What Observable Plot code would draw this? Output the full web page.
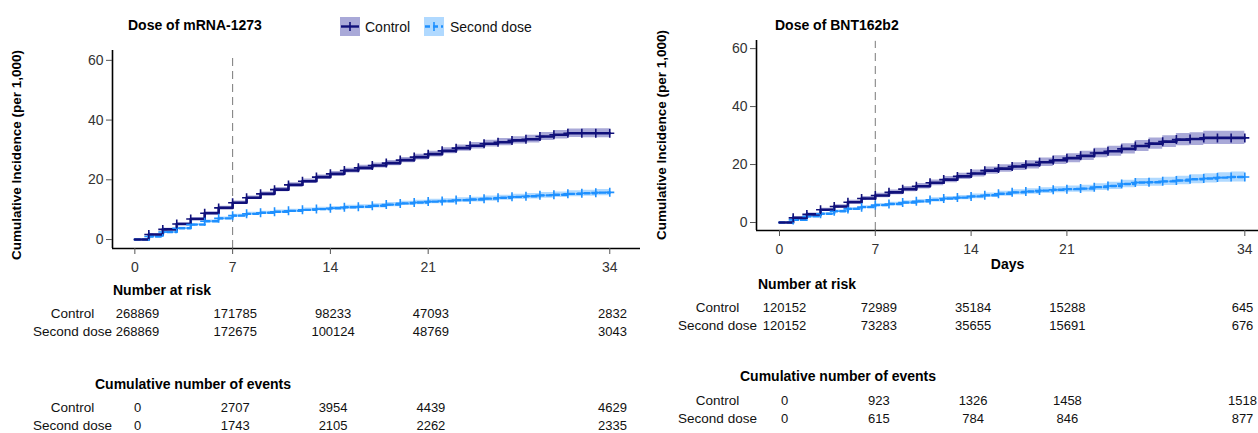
<!DOCTYPE html>
<html>
<head>
<meta charset="utf-8">
<script src="https://cdn.jsdelivr.net/npm/d3@7"></script>
<script src="https://cdn.jsdelivr.net/npm/@observablehq/plot@0.6"></script>
<style>
  body { margin: 0; background: #fff; font-family: "Liberation Sans", Arial, sans-serif; }
  #root { position: relative; width: 1258px; height: 433px; overflow: hidden; background: #fff; }
  .abs { position: absolute; white-space: nowrap; line-height: 1; }
  .bold { font-weight: bold; color: #000; font-size: 14px; }
  .ytitle { font-weight: bold; font-size: 13.5px; color: #000; transform: translate(-50%, -50%) rotate(-90deg); }
  .leg { font-size: 14px; color: #111; }
</style>
</head>
<body>
<div id="root"></div>
<script>
// ---------- data ----------
const days = [0,1,2,3,4,5,6,7,8,9,10,11,12,13,14,15,16,17,18,19,20,21,22,23,24,25,26,27,28,29,30,31,32,33,34];
const xTicks = [0, 7, 14, 21, 34];
const yTicks = [0, 20, 40, 60];
const groups = ["Control", "Second dose"];

// Dose of mRNA-1273 : cumulative incidence per 1,000 and CI half-widths
const mrnaControl   = [0,1.7,3.4,5.2,6.9,8.8,10.6,12.3,14.0,15.3,16.7,18.3,19.5,20.9,22.0,23.1,24.0,24.8,25.6,26.6,27.6,28.6,29.7,30.6,31.4,32.1,32.6,33.2,33.6,34.5,35.1,35.6,35.6,35.6,35.6];
const mrnaControlCI = [0,.25,.35,.4,.45,.5,.55,.6,.6,.65,.7,.7,.75,.75,.8,.8,.85,.85,.9,.9,.95,1.0,1.0,1.05,1.1,1.15,1.2,1.25,1.3,1.35,1.4,1.45,1.5,1.5,1.55];
const mrnaSecond    = [0,1.0,2.5,3.8,5.0,6.1,7.1,8.0,8.6,8.95,9.3,9.6,9.95,10.2,10.5,10.8,11.0,11.3,11.7,12.1,12.4,12.7,12.9,13.2,13.4,13.7,14.0,14.3,14.5,14.8,15.0,15.3,15.5,15.7,15.8];
const mrnaSecondCI  = [0,.2,.3,.35,.4,.45,.45,.5,.5,.55,.55,.55,.6,.6,.6,.65,.65,.7,.7,.7,.75,.75,.8,.8,.8,.85,.85,.9,.9,.95,.95,1.0,1.0,1.05,1.05];

// Dose of BNT162b2
const bntControl    = [0,1.6,2.8,4.4,5.5,7.0,8.3,9.3,10.4,11.5,12.5,13.7,14.8,15.9,16.9,17.9,18.6,19.3,19.9,20.8,21.5,22.2,23.0,24.0,24.6,25.4,26.4,27.2,27.9,28.6,28.8,29.2,29.2,29.2,29.2];
const bntControlCI  = [0,.35,.45,.55,.6,.65,.7,.8,.85,.9,.95,1.0,1.05,1.1,1.2,1.25,1.3,1.35,1.4,1.45,1.5,1.55,1.6,1.65,1.7,1.8,1.9,1.95,2.05,2.15,2.2,2.25,2.3,2.3,2.35];
const bntSecond     = [0,0.9,2.1,3.0,3.9,4.7,5.3,6.0,6.4,6.9,7.3,7.8,8.3,8.6,9.0,9.4,9.9,10.4,10.7,11.0,11.3,11.5,11.7,12.2,12.6,13.3,13.8,13.9,14.2,14.5,14.9,15.2,15.5,15.7,15.7];
const bntSecondCI   = [0,.25,.35,.4,.45,.5,.5,.55,.6,.6,.65,.7,.7,.75,.8,.8,.85,.9,.95,1.0,1.05,1.1,1.15,1.2,1.25,1.3,1.35,1.4,1.45,1.5,1.55,1.6,1.65,1.7,1.75];

// Tables (at days 0, 7, 14, 21, 34)
const mrnaRiskControl   = [268869, 171785, 98233, 47093, 2832];
const mrnaRiskSecond    = [268869, 172675, 100124, 48769, 3043];
const mrnaEventsControl = [0, 2707, 3954, 4439, 4629];
const mrnaEventsSecond  = [0, 1743, 2105, 2262, 2335];
const bntRiskControl    = [120152, 72989, 35184, 15288, 645];
const bntRiskSecond     = [120152, 73283, 35655, 15691, 676];
const bntEventsControl  = [0, 923, 1326, 1458, 1518];
const bntEventsSecond   = [0, 615, 784, 846, 877];

// ---------- styles ----------
const controlColor = "#10107a";
const secondColor = "#1e90ff";
const controlBand = "#a9a9d8";
const secondBand = "#b0d9ff";
const FONT = "'Liberation Sans', Arial, sans-serif";

const plusSymbol = {
  draw(ctx, size) {
    const r = Math.sqrt(size / Math.PI);
    ctx.moveTo(-r, 0); ctx.lineTo(r, 0);
    ctx.moveTo(0, -r); ctx.lineTo(0, r);
  }
};

const root = document.getElementById("root");
function place(el, left, top) {
  el.style.position = "absolute";
  el.style.left = left + "px";
  el.style.top = top + "px";
  root.appendChild(el);
}
function div(cls, text, left, top, extra) {
  const d = document.createElement("div");
  d.className = "abs " + cls;
  d.textContent = text;
  d.style.left = left + "px";
  d.style.top = top + "px";
  if (extra) Object.assign(d.style, extra);
  root.appendChild(d);
  return d;
}

function kmChart(cfg) {
  const series = (vals, ci) => days.map((t, i) => ({t, v: vals[i], lo: vals[i] - ci[i], hi: vals[i] + ci[i]}));
  const ctl = series(cfg.control, cfg.controlCI);
  const sec = series(cfg.second, cfg.secondCI);
  const marks = [
    Plot.areaY(sec, {x: "t", y1: "lo", y2: "hi", curve: "step-after", fill: secondBand}),
    Plot.areaY(ctl, {x: "t", y1: "lo", y2: "hi", curve: "step-after", fill: controlBand}),
    Plot.ruleX([7], {y1: cfg.yDomain[0], y2: cfg.ruleTop, stroke: "#7a7a7a", strokeWidth: 1, strokeDasharray: "8,5"}),
    Plot.line(sec, {x: "t", y: "v", curve: "step-after", stroke: secondColor, strokeWidth: 2.4, strokeDasharray: "5,3"}),
    Plot.line(ctl, {x: "t", y: "v", curve: "step-after", stroke: controlColor, strokeWidth: 2.6}),
    Plot.dot(sec.slice(1), {x: "t", y: "v", symbol: plusSymbol, r: 4.5, stroke: secondColor, fill: "none", strokeWidth: 1.6}),
    Plot.dot(ctl.slice(1), {x: "t", y: "v", symbol: plusSymbol, r: 4.5, stroke: controlColor, fill: "none", strokeWidth: 1.6}),
    Plot.ruleX([cfg.xDomain[0]], {stroke: "#000", strokeWidth: 1.6}),
    Plot.ruleY([cfg.yDomain[0]], {stroke: "#000", strokeWidth: 1.6}),
    Plot.axisX({ticks: xTicks, tickSize: 6, tickPadding: 8, label: null, fontSize: 14, stroke: "#555"}),
    Plot.axisY({ticks: yTicks, tickSize: 6, tickPadding: 3, label: null, fontSize: 14, stroke: "#555"})
  ];
  if (cfg.xLabel) {
    marks.push(Plot.text([cfg.xLabel], {frameAnchor: "bottom", lineAnchor: "middle", dy: cfg.xLabelDy, text: d => d, fontWeight: "bold", fontSize: 14, fill: "#000"}));
  }
  return Plot.plot({
    width: cfg.width, height: cfg.height,
    marginLeft: cfg.axisLeft, marginRight: cfg.width - cfg.axisRight,
    marginTop: cfg.axisTop, marginBottom: cfg.height - cfg.axisBottom,
    x: {domain: cfg.xDomain},
    y: {domain: cfg.yDomain},
    style: {fontFamily: FONT, fontSize: "14px", color: "#333", background: "none", overflow: "visible"},
    marks
  });
}

// risk / events table: its own x scale over [0, 34], columns placed as in the reference
function table(cfg, ctlVals, secVals) {
  const rows = [];
  groups.forEach((g, gi) => xTicks.forEach((t, i) => rows.push({g, t, v: (gi ? secVals : ctlVals)[i]})));
  return Plot.plot({
    width: cfg.width, height: 42,
    marginLeft: cfg.tableFirst, marginRight: cfg.width - cfg.tableLast, marginTop: 0, marginBottom: 0,
    x: {domain: [xTicks[0], xTicks[xTicks.length - 1]], axis: null},
    y: {type: "point", domain: groups, range: [12, 30], padding: 0, axis: null},
    style: {fontFamily: FONT, fontSize: "13px", color: "#111", background: "none", overflow: "visible"},
    marks: [
      Plot.text(rows, {x: "t", y: "g", text: d => String(d.v), fontSize: 13, fill: "#111"}),
      Plot.text(groups, {y: d => d, text: d => d, frameAnchor: "left", dx: cfg.labelCenter - cfg.tableFirst, textAnchor: "middle", fontSize: 13.5, fill: "#111"})
    ]
  });
}

// ---------- left panel: mRNA-1273 ----------
const leftCfg = {
  width: 640, height: 285, axisLeft: 112, axisRight: 640, axisTop: 50, axisBottom: 248,
  xDomain: [-1.6, 36.2], yDomain: [-3, 63.3], ruleTop: 61,
  tableFirst: 137, tableLast: 612, labelCenter: 72,
  control: mrnaControl, controlCI: mrnaControlCI, second: mrnaSecond, secondCI: mrnaSecondCI
};
place(kmChart(leftCfg), 0, 0);
div("bold", "Dose of mRNA-1273", 128, 18);
div("ytitle", "Cumulative Incidence (per 1,000)", 17, 155);
div("bold", "Number at risk", 113, 283);
place(table(leftCfg, mrnaRiskControl, mrnaRiskSecond), 0, 301);
div("bold", "Cumulative number of events", 95, 377);
place(table(leftCfg, mrnaEventsControl, mrnaEventsSecond), 0, 395);

// legend
function swatch(fill, stroke, dashed) {
  const ns = "http://www.w3.org/2000/svg";
  const s = document.createElementNS(ns, "svg");
  s.setAttribute("width", 20); s.setAttribute("height", 19);
  s.innerHTML = `<rect x="0" y="0" width="20" height="19" fill="${fill}"/>` +
    `<line x1="1" x2="19" y1="9.5" y2="9.5" stroke="${stroke}" stroke-width="2.4" ${dashed ? 'stroke-dasharray="5,3"' : ''}/>` +
    `<line x1="10" x2="10" y1="5" y2="14" stroke="${stroke}" stroke-width="1.6"/>`;
  return s;
}
place(swatch(controlBand, controlColor, false), 340, 17);
div("leg", groups[0], 365, 20);
place(swatch(secondBand, secondColor, true), 424, 17);
div("leg", groups[1], 450, 20);

// ---------- right panel: BNT162b2 ----------
const rightCfg = {
  width: 618, height: 275, axisLeft: 116, axisRight: 618, axisTop: 40, axisBottom: 230,
  xDomain: [-1.68, 35.0], yDomain: [-2.76, 62.8], ruleTop: 62.5, xLabel: "Days", xLabelDy: 34,
  tableFirst: 144, tableLast: 602, labelCenter: 77,
  control: bntControl, controlCI: bntControlCI, second: bntSecond, secondCI: bntSecondCI
};
place(kmChart(rightCfg), 640, 0);
div("bold", "Dose of BNT162b2", 775, 18);
div("ytitle", "Cumulative Incidence (per 1,000)", 662, 135);
div("bold", "Number at risk", 758, 277);
place(table(rightCfg, bntRiskControl, bntRiskSecond), 640, 295);
div("bold", "Cumulative number of events", 740, 369);
place(table(rightCfg, bntEventsControl, bntEventsSecond), 640, 388);
</script>
</body>
</html>
